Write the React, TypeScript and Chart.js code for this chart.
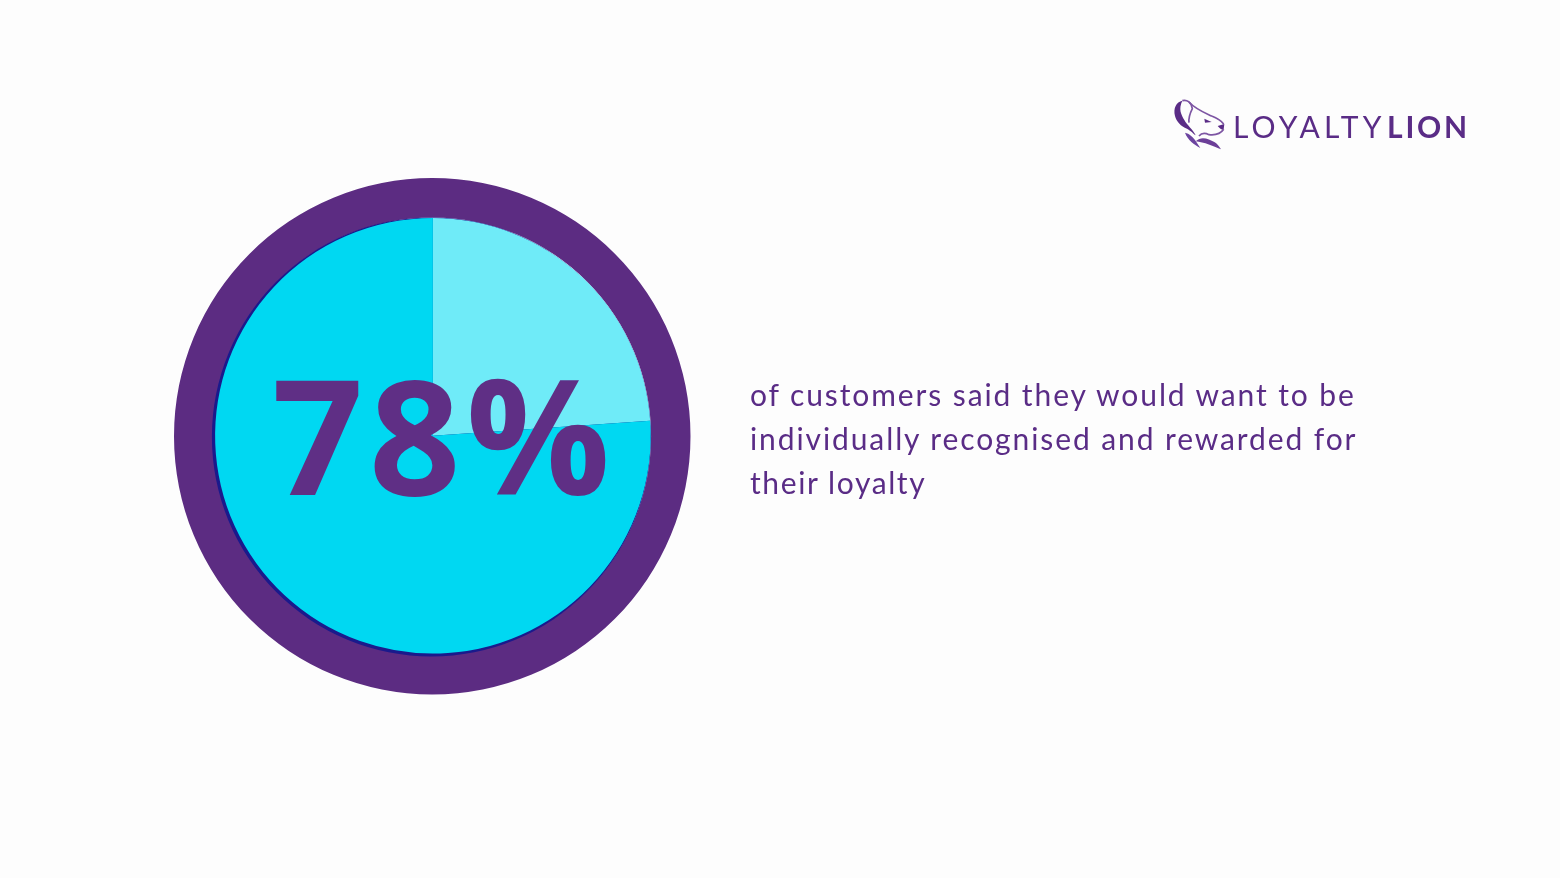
import React, { useEffect, useRef } from "react";
import { Chart, registerables } from "chart.js";

Chart.register(...registerables);

const W = 1560;
const H = 878;

const pieCategories = ["Other customers", "Want individual recognition"];
const pieValues = [23.9, 76.1];
const pieColors = ["#6febf8", "#00d8f2"];
const ringValues = [100];
const ringColor = ["#5c2c82"];
const shadowValues = [100];
const shadowColor = ["#1a1a8c"];

const bigStat = "78%";
const bodyLines = [
  "of customers said they would want to be",
  "individually recognised and rewarded for",
  "their loyalty",
];

function padFor(cx: number, cy: number, r: number) {
  return { left: cx - r, top: cy - r, right: W - cx - r, bottom: H - cy - r };
}

function makeChart(
  canvas: HTMLCanvasElement,
  labels: string[],
  data: number[],
  colors: string[],
  cx: number,
  cy: number,
  r: number,
  cutout: number
) {
  return new Chart(canvas, {
    type: "doughnut",
    data: {
      labels,
      datasets: [{ data, backgroundColor: colors, borderWidth: 0 }],
    },
    options: {
      responsive: false,
      animation: false,
      events: [],
      cutout,
      layout: { padding: padFor(cx, cy, r) },
      plugins: { legend: { display: false }, tooltip: { enabled: false } },
    },
  });
}

const layer: React.CSSProperties = { position: "absolute", left: 0, top: 0, width: W, height: H };

export default function App() {
  const ringRef = useRef<HTMLCanvasElement>(null);
  const shadowRef = useRef<HTMLCanvasElement>(null);
  const pieRef = useRef<HTMLCanvasElement>(null);

  useEffect(() => {
    const charts = [
      makeChart(ringRef.current!, ["Ring"], ringValues, ringColor, 432.25, 436.25, 258.25, 218.8),
      makeChart(shadowRef.current!, ["Edge"], shadowValues, shadowColor, 431.4, 436.9, 219.5, 0),
      makeChart(pieRef.current!, pieCategories, pieValues, pieColors, 432.9, 435.8, 217.8, 0),
    ];
    return () => charts.forEach((c) => c.destroy());
  }, []);

  const txt: React.CSSProperties = {
    position: "absolute",
    whiteSpace: "nowrap",
    color: "#5a2c86",
    fontFamily: "Lato, sans-serif",
    lineHeight: 1,
  };

  return (
    <div style={{ position: "fixed", left: 0, top: 0, width: W, height: H, background: "#fdfdfd", overflow: "hidden" }}>
      <canvas ref={ringRef} width={W} height={H} style={layer} />
      <canvas ref={shadowRef} width={W} height={H} style={layer} />
      <canvas ref={pieRef} width={W} height={H} style={layer} />

      <div style={{ ...txt, left: 272, top: 353, fontFamily: "'Open Sans', sans-serif", fontSize: 160, fontWeight: 700, letterSpacing: 5.5, color: "#5f2f85" }}>
        {bigStat}
      </div>

      {bodyLines.map((line, i) => (
        <div key={line} style={{ ...txt, left: 750, top: 379 + i * 44, fontSize: 30, letterSpacing: i === 2 ? 1.6 : 1.9 }}>
          {line}
        </div>
      ))}

      <svg style={{ position: "absolute", left: 1165, top: 92 }} width={70} height={65} viewBox="0 0 210 195" fill="none">
        <path d="M52 26 C34 30 24 48 30 72 C34 88 48 104 66 110 C80 118 84 124 92 130 C84 112 66 100 58 84 C48 66 40 52 52 26Z" fill="#5a2c86" />
        <path d="M52 26 C66 22 78 30 82 50 C76 62 70 76 72 92" stroke="#7d55a3" strokeWidth="5" />
        <path d="M72 30 C92 52 118 62 140 72 C156 78 170 88 176 96" stroke="#7d55a3" strokeWidth="5" />
        <path d="M158 102 L178 96 L176 112 C170 116 164 108 158 102Z" fill="#5a2c86" />
        <path d="M176 112 C168 124 150 130 132 128 C120 122 110 122 102 132" stroke="#7d55a3" strokeWidth="5" />
        <path d="M118 80 L140 90 L120 92Z" fill="#5a2c86" />
        <path d="M60 122 C72 124 86 136 94 150 C98 156 102 162 106 168 C88 158 68 144 60 122Z" fill="#6c44a0" />
        <path d="M92 148 C110 130 132 142 148 150 C156 154 162 162 168 172 C148 164 116 150 92 148Z" fill="#6c3f98" />
      </svg>

      <div style={{ ...txt, left: 1233, top: 111, fontSize: 30, fontWeight: 400, letterSpacing: 4.2 }}>LOYALTY</div>
      <div style={{ ...txt, left: 1387, top: 111, fontSize: 30, fontWeight: 700, letterSpacing: 2.8 }}>LION</div>
    </div>
  );
}
